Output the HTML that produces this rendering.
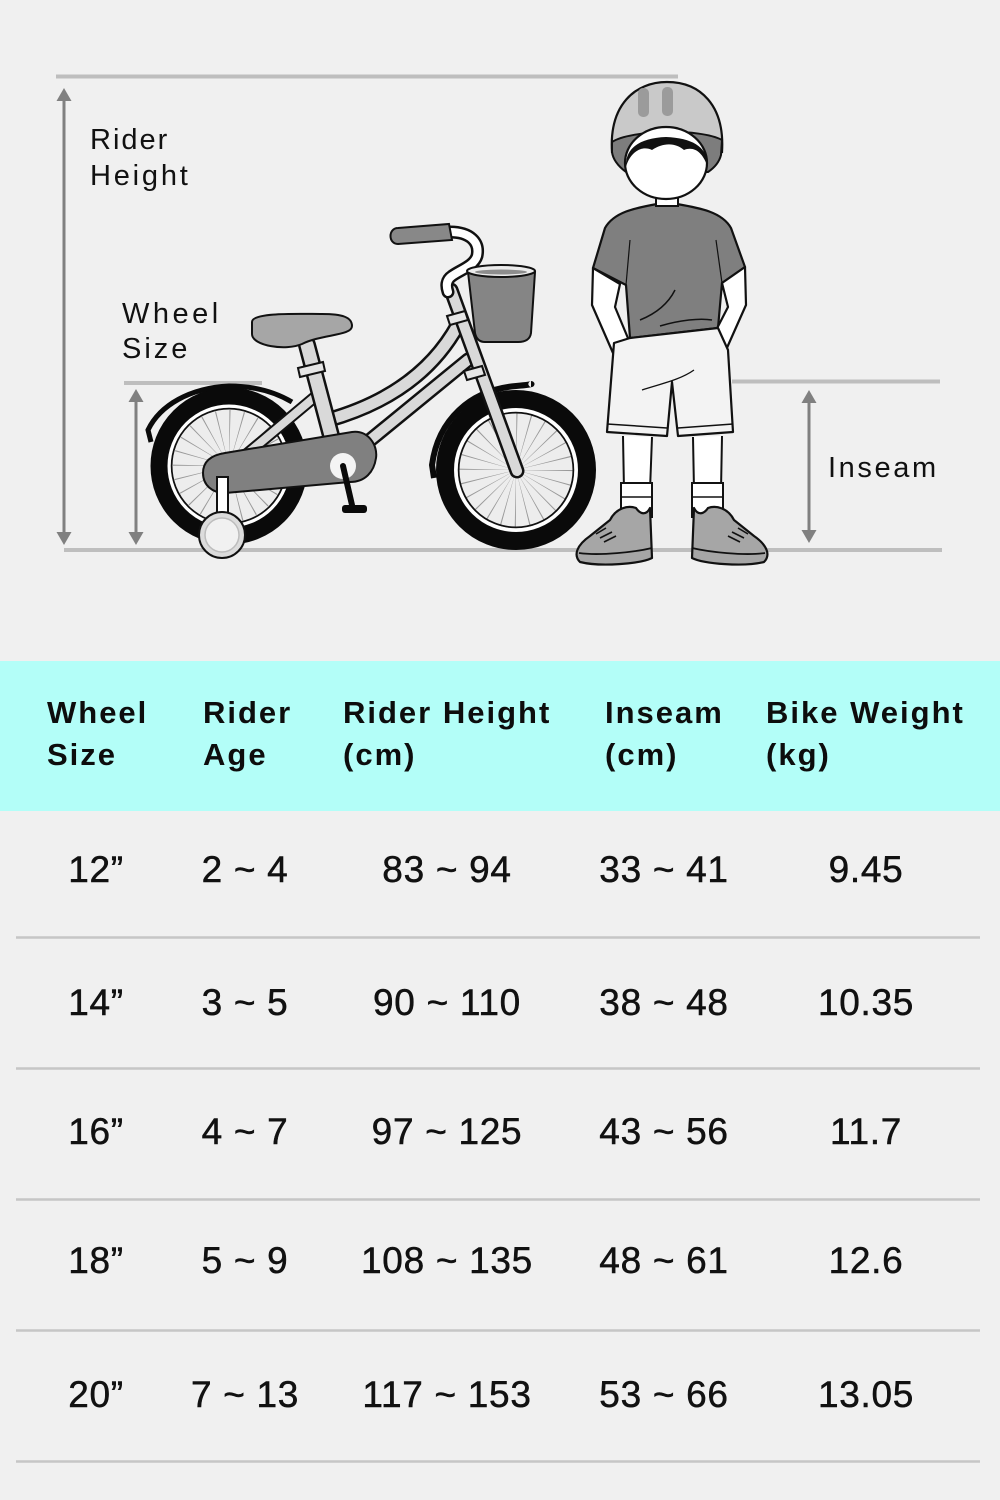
<!DOCTYPE html>
<html>
<head>
<meta charset="utf-8">
<style>
html,body{margin:0;padding:0;background:#f0f0f0;}
svg{display:block;}
</style>
</head>
<body>
<svg width="1000" height="1500" viewBox="0 0 1000 1500" xmlns="http://www.w3.org/2000/svg">
<rect width="1000" height="1500" fill="#f0f0f0"/>

<!-- guide lines -->
<g stroke="#bebebe" stroke-width="4">
  <line x1="56" y1="76.5" x2="678" y2="76.5"/>
  <line x1="124" y1="383" x2="262" y2="383"/>
  <line x1="64" y1="550" x2="942" y2="550"/>
  <line x1="732" y1="381.5" x2="940" y2="381.5"/>
</g>

<!-- arrows -->
<g fill="#808080">
  <rect x="62.5" y="98" width="3" height="437"/>
  <polygon points="64,88 56.5,101 71.5,101"/>
  <polygon points="64,545 56.5,532 71.5,532"/>
  <rect x="134.5" y="398" width="3" height="138"/>
  <polygon points="136,389 128.5,402 143.5,402"/>
  <polygon points="136,545 128.5,532 143.5,532"/>
  <rect x="807.5" y="399" width="3" height="135"/>
  <polygon points="809,390 801.5,403 816.5,403"/>
  <polygon points="809,543 801.5,530 816.5,530"/>
</g>

<!-- labels -->
<g font-family="Liberation Sans, sans-serif" font-size="29" fill="#111">
  <text x="90" y="149" letter-spacing="2">Rider</text>
  <text x="90" y="185" letter-spacing="2.8">Height</text>
  <text x="122" y="323" letter-spacing="3.5">Wheel</text>
  <text x="122" y="358" letter-spacing="3">Size</text>
  <text x="828" y="477" letter-spacing="2.6">Inseam</text>
</g>

<!-- ===== BIKE ===== -->
<!-- rear wheel -->
<g>
  <circle cx="229" cy="466" r="56" fill="#ededed"/>
  <circle cx="229" cy="466" r="28" fill="none" stroke="#9a9a9a" stroke-width="56" stroke-dasharray="0.6 6.73"/>
  <circle cx="229" cy="466" r="57.5" fill="none" stroke="#111" stroke-width="2"/>
  <circle cx="229" cy="466" r="60" fill="none" stroke="#fff" stroke-width="3.5"/>
  <circle cx="229" cy="466" r="70" fill="none" stroke="#0a0a0a" stroke-width="17"/>
  <path d="M151,442 L148,430 C160,405 190,388 229,386 C255,386 275,392 292,402" fill="none" stroke="#0a0a0a" stroke-width="5"/>
</g>
<!-- front wheel -->
<g>
  <circle cx="516" cy="470" r="57" fill="#ededed"/>
  <circle cx="516" cy="470" r="28.5" fill="none" stroke="#9a9a9a" stroke-width="57" stroke-dasharray="0.6 6.86"/>
  <circle cx="516" cy="470" r="57.5" fill="none" stroke="#111" stroke-width="2"/>
  <circle cx="516" cy="470" r="60" fill="none" stroke="#fff" stroke-width="3.5"/>
  <circle cx="516" cy="470" r="71" fill="none" stroke="#0a0a0a" stroke-width="18"/>
  <path d="M434,478 L432,465 C438,420 470,390 516,386 C528,385 533,384 531,384" fill="none" stroke="#0a0a0a" stroke-width="6"/>
</g>

<!-- frame tubes -->
<g fill="none" stroke-linecap="round">
  <path d="M316,396 L242,458" stroke="#111" stroke-width="12"/>
  <path d="M316,396 L242,458" stroke="#d9d9d9" stroke-width="8"/>
  <path d="M328,420 Q420,394 458,325" stroke="#111" stroke-width="16"/>
  <path d="M328,420 Q420,394 458,325" stroke="#d9d9d9" stroke-width="11"/>
  <path d="M358,450 L468,360" stroke="#111" stroke-width="15"/>
  <path d="M358,450 L468,360" stroke="#d9d9d9" stroke-width="10"/>
  <path d="M307,345 L338,462" stroke="#111" stroke-width="18"/>
  <path d="M307,345 L338,462" stroke="#d9d9d9" stroke-width="13"/>
</g>
<!-- seat clamp -->
<polygon points="298,368 323,362 325,371 300,377" fill="#e6e6e6" stroke="#111" stroke-width="2"/>
<!-- seat -->
<path d="M252,322 C252,312 300,314 322,314 C342,314 352,317 352,326 C352,336 322,334 302,344 C286,351 252,346 252,334 Z" fill="#a6a6a6" stroke="#111" stroke-width="2"/>

<!-- chain guard -->
<path d="M225,453 L352,432 C368,430 378,445 376,458 C374,472 365,482 350,482 L225,493 C212,493 203,485 203,473 C203,461 212,455 225,453 Z" fill="#808080" stroke="#111" stroke-width="2"/>
<circle cx="343" cy="466" r="13" fill="#f4f4f4"/>
<path d="M343,466 L352,505" stroke="#0a0a0a" stroke-width="6" stroke-linecap="round"/>
<rect x="342" y="505" width="25" height="8" rx="3" fill="#0a0a0a"/>

<!-- training wheel -->
<rect x="217" y="477" width="11" height="38" fill="#fff" stroke="#111" stroke-width="2"/>
<circle cx="222" cy="535" r="23" fill="#dcdcdc" stroke="#111" stroke-width="2"/>
<circle cx="222" cy="535" r="17" fill="#f1f1f1" stroke="#bdbdbd" stroke-width="1.5"/>

<!-- fork / head tube -->
<g fill="none" stroke-linecap="round">
  <path d="M451,290 L517,471" stroke="#111" stroke-width="15"/>
  <path d="M451,290 L517,471" stroke="#d9d9d9" stroke-width="10"/>
</g>
<polygon points="447,316 465,311 468,320 450,325" fill="#e6e6e6" stroke="#111" stroke-width="2"/>
<polygon points="464,371 482,366 485,375 467,380" fill="#e6e6e6" stroke="#111" stroke-width="2"/>

<!-- handlebar -->
<path d="M450,232 C470,232 480,242 477,256 C474,266 460,270 452,276 C446,280 446,286 448,292" fill="none" stroke="#111" stroke-width="13" stroke-linecap="round"/>
<path d="M450,232 C470,232 480,242 477,256 C474,266 460,270 452,276 C446,280 446,286 448,292" fill="none" stroke="#fff" stroke-width="8" stroke-linecap="round"/>
<path d="M398,228 L449,224 L452,240 L398,244 C388,244 388,228 398,228 Z" fill="#888" stroke="#111" stroke-width="2"/>

<!-- basket -->
<path d="M468,272 L535,272 L531,333 C530,340 524,342 518,342 L485,342 C479,342 476,338 475,333 Z" fill="#858585" stroke="#111" stroke-width="2"/>
<ellipse cx="501" cy="271" rx="34" ry="6" fill="#ececec" stroke="#111" stroke-width="2"/>
<ellipse cx="501" cy="272" rx="26" ry="2.5" fill="#8d8d8d"/>

<!-- ===== BOY ===== -->
<!-- shirt -->
<path d="M657,204 L677,204 C700,208 722,212 731,228 L745,267 L722,283 L718,328 L630,338 L626,285 L593,268 L605,228 C614,212 635,208 657,204 Z" fill="#7f7f7f" stroke="#111" stroke-width="2.2" stroke-linejoin="round"/>
<path d="M640,320 C660,312 670,300 675,290" fill="none" stroke="#111" stroke-width="1.5"/>
<path d="M660,326 C680,320 700,318 712,320" fill="none" stroke="#111" stroke-width="1.5"/>
<path d="M626,285 L630,240" fill="none" stroke="#111" stroke-width="1.2"/>
<path d="M722,283 L716,240" fill="none" stroke="#111" stroke-width="1.2"/>
<!-- arms -->
<path d="M593,268 L592,305 L613,353 L630,343 L615,307 L620,284 Z" fill="#fff" stroke="#111" stroke-width="2.2" stroke-linejoin="round"/>
<path d="M745,267 L746,305 L726,350 L711,340 L728,307 L722,283 Z" fill="#fff" stroke="#111" stroke-width="2.2" stroke-linejoin="round"/>
<!-- shorts -->
<path d="M614,343 L630,338 L718,328 L728,350 L733,432 L678,436 L672,382 L667,436 L607,432 Z" fill="#f3f3f3" stroke="#111" stroke-width="2.2" stroke-linejoin="round"/>
<path d="M607,424 L667,428 M678,428 L733,424" fill="none" stroke="#111" stroke-width="1.5"/>
<path d="M642,390 C660,384 680,380 694,370" fill="none" stroke="#111" stroke-width="1.3"/>
<!-- legs -->
<path d="M623,436 L624,490 L650,490 L652,437" fill="#fff" stroke="#111" stroke-width="2"/>
<path d="M693,437 L694,490 L721,490 L722,436" fill="#fff" stroke="#111" stroke-width="2"/>
<rect x="621" y="483" width="31" height="34" fill="#fff" stroke="#111" stroke-width="2"/>
<rect x="692" y="483" width="31" height="34" fill="#fff" stroke="#111" stroke-width="2"/>
<line x1="621" y1="497" x2="652" y2="497" stroke="#111" stroke-width="1.5"/>
<line x1="692" y1="497" x2="723" y2="497" stroke="#111" stroke-width="1.5"/>
<!-- shoes -->
<path d="M650,508 L652,558 C640,564 600,567 580,562 C573,555 577,545 590,536 L610,520 C616,508 628,505 636,508 C640,514 646,516 650,508 Z" fill="#a6a6a6" stroke="#111" stroke-width="2.2" stroke-linejoin="round"/>
<path d="M579,553 C600,556 635,552 652,548" fill="none" stroke="#111" stroke-width="1.8"/>
<path d="M596,534 L606,528 M600,538 L612,532 M604,542 L616,536" stroke="#111" stroke-width="1.6"/>
<path d="M694,508 L692,558 C704,564 744,567 764,562 C771,555 767,545 754,536 L734,520 C728,508 716,505 708,508 C704,514 698,516 694,508 Z" fill="#a6a6a6" stroke="#111" stroke-width="2.2" stroke-linejoin="round"/>
<path d="M765,553 C744,556 709,552 692,548" fill="none" stroke="#111" stroke-width="1.8"/>
<path d="M748,534 L738,528 M744,538 L732,532 M740,542 L728,536" stroke="#111" stroke-width="1.6"/>
<!-- neck -->
<rect x="656" y="192" width="22" height="14" fill="#fff" stroke="#111" stroke-width="2"/>
<!-- helmet -->
<path d="M612,152 C609,105 635,82 667,82 C700,82 725,105 722,152 Z" fill="#c9c9c9" stroke="#111" stroke-width="2.2"/>
<path d="M612,142 C630,130 700,128 722,140 L721,155 C719,163 714,168 708,172 L626,172 C618,166 613,160 612,152 Z" fill="#7d7d7d" stroke="#111" stroke-width="2"/>
<rect x="638" y="88" width="11" height="29" rx="5" fill="#9b9b9b"/>
<rect x="662" y="87" width="11" height="29" rx="5" fill="#9b9b9b"/>
<!-- face -->
<ellipse cx="666" cy="163" rx="41" ry="36" fill="#fff" stroke="#111" stroke-width="2.2"/>
<path d="M626,167 C625,148 640,138 666,137 C692,138 708,147 707,165 C702,152 694,146 684,150 C676,143 664,142 652,150 C642,145 630,152 626,167 Z" fill="#111"/>

<!-- ===== TABLE ===== -->
<rect x="0" y="661" width="1000" height="150" fill="#b3fef8"/>
<g font-family="Liberation Sans, sans-serif" font-weight="bold" font-size="31" letter-spacing="2" fill="#0d0d0d">
  <text x="47" y="723">Wheel</text>
  <text x="47" y="765">Size</text>
  <text x="203" y="723">Rider</text>
  <text x="203" y="765">Age</text>
  <text x="343" y="723">Rider Height</text>
  <text x="343" y="765">(cm)</text>
  <text x="605" y="723">Inseam</text>
  <text x="605" y="765">(cm)</text>
  <text x="766" y="723">Bike Weight</text>
  <text x="766" y="765">(kg)</text>
</g>

<g stroke="#c6c6c6" stroke-width="2.5">
  <line x1="16" y1="937.5" x2="980" y2="937.5"/>
  <line x1="16" y1="1068.5" x2="980" y2="1068.5"/>
  <line x1="16" y1="1199.5" x2="980" y2="1199.5"/>
  <line x1="16" y1="1330.5" x2="980" y2="1330.5"/>
  <line x1="16" y1="1461.5" x2="980" y2="1461.5"/>
</g>

<g font-family="Liberation Sans, sans-serif" font-size="37" letter-spacing="0.7" fill="#111" text-anchor="middle" stroke="#111" stroke-width="0.5">
  <text x="96" y="882">12”</text>
  <text x="245" y="882">2 ~ 4</text>
  <text x="447" y="882">83 ~ 94</text>
  <text x="664" y="882">33 ~ 41</text>
  <text x="866" y="882">9.45</text>

  <text x="96" y="1015">14”</text>
  <text x="245" y="1015">3 ~ 5</text>
  <text x="447" y="1015">90 ~ 110</text>
  <text x="664" y="1015">38 ~ 48</text>
  <text x="866" y="1015">10.35</text>

  <text x="96" y="1144">16”</text>
  <text x="245" y="1144">4 ~ 7</text>
  <text x="447" y="1144">97 ~ 125</text>
  <text x="664" y="1144">43 ~ 56</text>
  <text x="866" y="1144">11.7</text>

  <text x="96" y="1273">18”</text>
  <text x="245" y="1273">5 ~ 9</text>
  <text x="447" y="1273">108 ~ 135</text>
  <text x="664" y="1273">48 ~ 61</text>
  <text x="866" y="1273">12.6</text>

  <text x="96" y="1407">20”</text>
  <text x="245" y="1407">7 ~ 13</text>
  <text x="447" y="1407">117 ~ 153</text>
  <text x="664" y="1407">53 ~ 66</text>
  <text x="866" y="1407">13.05</text>
</g>
</svg>
</body>
</html>
